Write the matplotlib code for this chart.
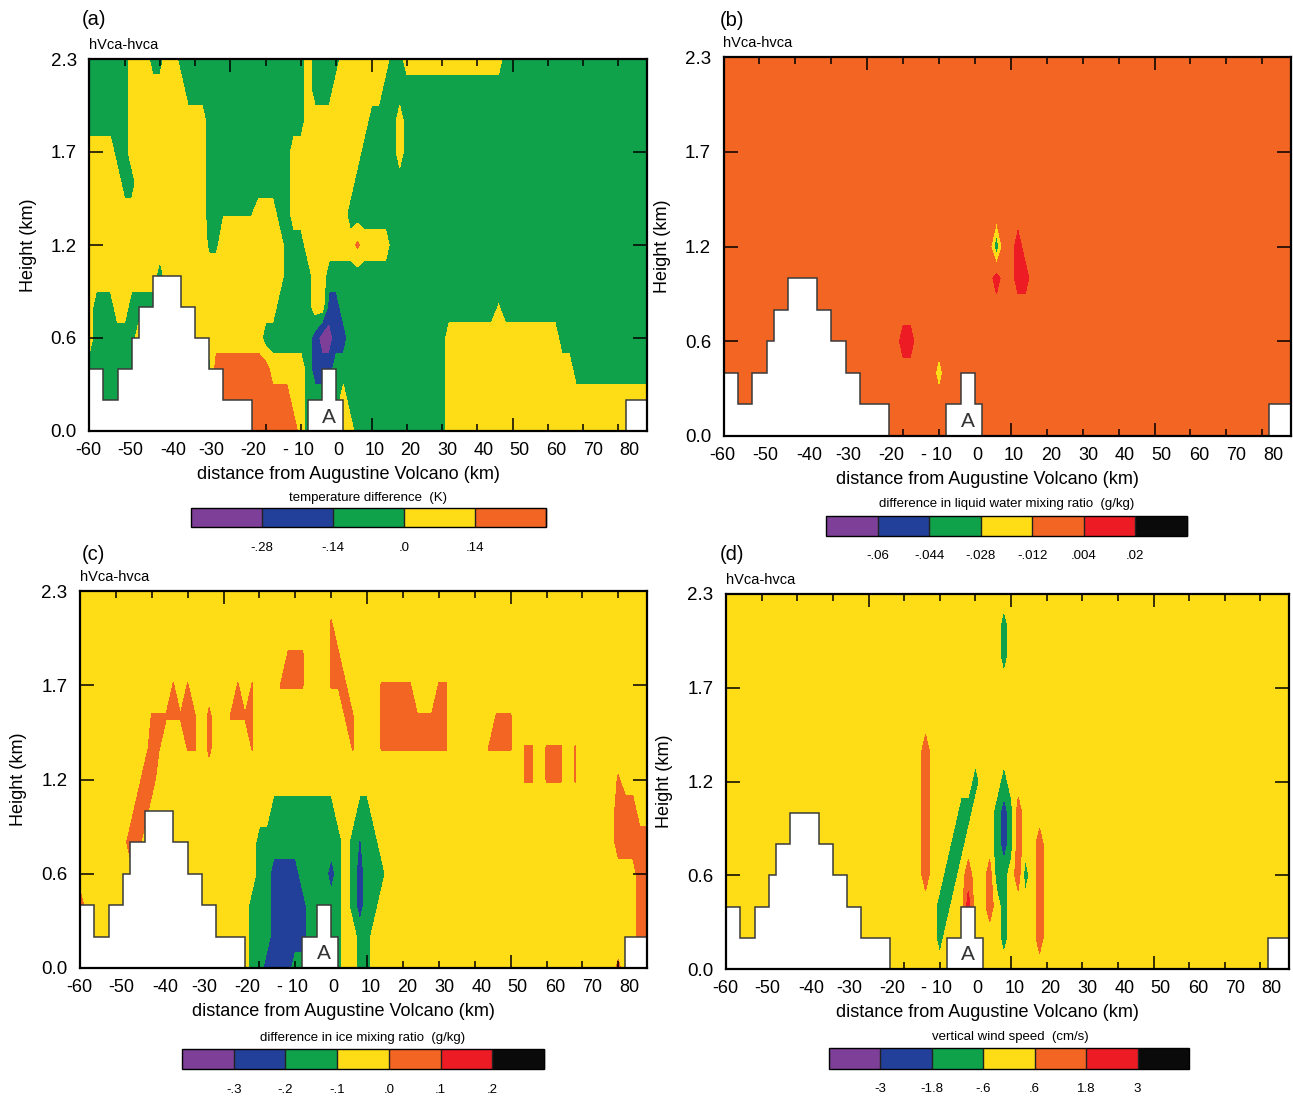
import numpy as np
import matplotlib
matplotlib.use("Agg")
import matplotlib.pyplot as plt

plt.rcParams['font.family'] = ['Liberation Sans', 'DejaVu Sans']

W, H = 1293, 1096
NX, NZ = 80, 13          # model columns, model levels

PALETTE = ['#7e3f98', '#22409a', '#10a14b', '#fedd17', '#f26522', '#ed1c24', '#0a0a0a']

# terrain (white steps): column edges and height in model levels
TERRAIN_EDGES = [0, 2, 4, 6, 7, 9, 13, 15, 17, 19, 23, 31, 33, 35, 36, 76, 79]
TERRAIN_LEVELS = [2, 1, 2, 3, 4, 5, 4, 3, 2, 1, 0, 1, 2, 1, 0, 1]
VENT_X, VENT_Z = 34.0, 0.45

XLABEL_POS = [-0.1, 5.8, 11.9, 17.3, 23.3, 29.6, 35.3, 40.45, 45.55, 50.75, 55.9, 61.0, 66.2, 71.4, 76.5]
XLABEL_TXT = ['-60', '-50', '-40', '-30', '-20', '- 10', '0', '10', '20', '30', '40', '50', '60', '70', '80']
YTICK_POS = [0, 3, 6, 9, 12]
YTICK_TXT = ['0.0', '0.6', '1.2', '1.7', '2.3']

# colour class per model level, top level (2.3 km) first; each row is a list of
# (first column, class).  0 purple 1 blue 2 green 3 yellow 4 orange 5 red 6 black;
# fractional classes sit between two class centres.
T_BOUNDS = [-0.42, -0.28, -0.14, 0.0, 0.14, 0.28]
T_LABELS = ['-.28', '-.14', '.0', '.14']
T_ROWS = [
    [(0, 2), (6, 3), (9, 2), (11, 3), (13, 2), (31, 3), (32, 2), (36, 3), (43, 2), (45, 3), (59, 2)],
    [(0, 2), (6, 3), (14, 2), (31, 3), (32, 2), (35, 3), (42, 2)],
    [(0, 2), (6, 3), (17, 2), (31, 3), (40, 2), (44, 3), (45, 2)],
    [(0, 3), (4, 2), (6, 3), (17, 2), (29, 3), (39, 2), (44, 3), (45, 2)],
    [(0, 3), (5, 2), (7, 3), (17, 2), (29, 3), (38, 2)],
    [(0, 3), (17, 2), (19, 2.45), (24, 3), (27, 2), (29, 3), (37, 2)],
    [(0, 3), (17, 2.3), (19, 3), (28, 2), (31, 3), (38, 3.7), (39, 3), (43, 2)],
    [(0, 3), (10, 2), (11, 3), (28, 2), (32, 3), (34, 2)],
    [(0, 3), (1, 2), (4, 3), (6, 2), (10, 3), (27, 2), (32, 3), (34, 1), (36, 2), (58, 2.56), (59, 2)],
    [(0, 3), (1, 2), (7, 3), (25, 2), (32, 1), (33, 0), (35, 1), (37, 2), (51, 3), (67, 2)],
    [(0, 2), (18, 4), (26, 3), (31, 2), (32, 1), (35, 2), (51, 3), (69, 2)],
    [(0, 2), (18, 4), (29, 3), (31, 2), (36, 3), (37, 2), (51, 3)],
    [(0, 4), (30, 3), (31, 2), (36, 3), (38, 2), (51, 3)],
]

QC_BOUNDS = [-0.076, -0.06, -0.044, -0.028, -0.012, 0.004, 0.02, 0.036]
QC_LABELS = ['-.06', '-.044', '-.028', '-.012', '.004', '.02']
QC_ROWS = [
    [(0, 4)],
    [(0, 4)],
    [(0, 4)],
    [(0, 4)],
    [(0, 4)],
    [(0, 4)],
    [(0, 4), (38, 1.7), (39, 4), (41, 5), (42, 4)],
    [(0, 4), (38, 5), (39, 4), (41, 5), (43, 4)],
    [(0, 4)],
    [(0, 4), (25, 5), (27, 4)],
    [(0, 4), (30, 3), (31, 4)],
    [(0, 4)],
    [(0, 4)],
]

QI_BOUNDS = [-0.4, -0.3, -0.2, -0.1, 0.0, 0.1, 0.2, 0.3]
QI_LABELS = ['-.3', '-.2', '-.1', '.0', '.1', '.2']
QI_ROWS = [
    [(0, 3)],
    [(0, 3), (35, 3.55), (36, 3)],
    [(0, 3), (29, 3.55), (32, 3), (35, 3.55), (37, 3)],
    [(0, 3), (13, 3.55), (14, 3), (15, 3.55), (16, 3), (22, 3.55), (23, 3), (24, 3.55), (25, 3),
     (28, 3.55), (32, 3), (35, 3.55), (38, 3), (42, 3.55), (47, 3), (50, 3.55), (52, 3)],
    [(0, 3), (10, 3.55), (17, 3), (18, 3.7), (19, 3), (21, 3.55), (25, 3), (37, 3.55), (39, 3),
     (42, 3.55), (52, 3), (58, 3.55), (61, 3)],
    [(0, 3), (10, 4), (11, 3.55), (12, 3), (15, 3.55), (17, 3), (18, 3.7), (19, 3), (24, 3.55), (25, 3),
     (38, 3.55), (39, 3), (42, 3.55), (52, 3), (57, 3.55), (61, 3), (62, 3.55), (64, 3), (65, 3.55),
     (68, 3), (69, 3.55), (70, 3)],
    [(0, 3), (9, 4), (11, 3), (62, 3.55), (64, 3), (65, 3.55), (68, 3), (69, 3.55), (70, 3),
     (75, 3.6), (76, 3)],
    [(0, 3), (8, 4), (10, 3), (27, 2), (36, 3), (39, 2), (41, 3), (75, 4), (78, 3)],
    [(0, 3), (7, 4), (9, 3), (25, 2), (37, 3), (38, 2), (39, 1.4), (40, 2), (42, 3), (75, 4)],
    [(0, 3), (25, 2), (27, 1), (31, 2), (35, 1), (36, 2), (37, 3), (38, 2), (39, 1), (40, 2), (43, 3),
     (78, 4)],
    [(0, 4), (1, 3), (24, 2), (27, 1), (32, 2), (37, 3), (38, 2), (39, 1), (40, 2), (42, 3), (78, 4)],
    [(0, 3), (24, 2), (27, 1), (32, 2), (37, 3), (39, 2), (41, 3), (78, 4)],
    [(0, 3), (24, 2), (26, 1), (30, 2), (37, 3), (39, 2), (41, 3), (75, 3.7), (76, 3)],
]

W_BOUNDS = [-4.2, -3.0, -1.8, -0.6, 0.6, 1.8, 3.0, 4.2]
W_LABELS = ['-3', '-1.8', '-.6', '.6', '1.8', '3']
W_ROWS = [
    [(0, 3)],
    [(0, 3), (39, 2), (40, 3)],
    [(0, 3), (39, 2), (40, 3)],
    [(0, 3)],
    [(0, 3)],
    [(0, 3), (28, 4), (29, 3)],
    [(0, 3), (28, 4), (29, 3), (35, 2), (36, 3), (39, 2), (40, 3)],
    [(0, 3), (28, 4), (29, 3), (33, 2), (35, 3), (38, 2), (39, 1), (40, 2), (41, 4), (42, 3)],
    [(0, 3), (28, 4), (29, 3), (32, 2), (34, 3), (38, 2), (39, 1), (40, 2), (41, 4), (42, 3), (44, 4), (45, 3)],
    [(0, 3), (28, 4), (29, 3), (31, 2), (33, 3), (34, 4), (35, 3), (37, 4), (38, 2), (40, 3), (41, 4),
     (42, 2), (43, 3), (44, 4), (45, 3)],
    [(0, 3), (30, 2), (32, 3), (34, 5), (35, 3), (37, 4), (38, 3), (39, 2), (40, 3), (44, 4), (45, 3)],
    [(0, 3), (30, 2), (31, 3), (39, 2), (40, 3), (44, 4), (45, 3)],
    [(0, 3)],
]

PANELS = [
    dict(tag='(a)', rows=T_ROWS, bounds=T_BOUNDS, labels=T_LABELS,
         title='temperature difference  (K)',
         ax=(89.3, 59, 646.7, 431), cb=(191, 508, 546, 527.5), cbt=(368, 498), tagxy=(82, 19.5)),
    dict(tag='(b)', rows=QC_ROWS, bounds=QC_BOUNDS, labels=QC_LABELS,
         title='difference in liquid water mixing ratio  (g/kg)',
         ax=(723.5, 57, 1291, 436), cb=(826, 516, 1187, 535.5), cbt=(1007, 504), tagxy=(720, 20)),
    dict(tag='(c)', rows=QI_ROWS, bounds=QI_BOUNDS, labels=QI_LABELS,
         title='difference in ice mixing ratio  (g/kg)',
         ax=(80, 591, 647, 968), cb=(182, 1049, 544, 1069), cbt=(363, 1038), tagxy=(82, 554)),
    dict(tag='(d)', rows=W_ROWS, bounds=W_BOUNDS, labels=W_LABELS,
         title='vertical wind speed  (cm/s)',
         ax=(726, 594, 1289, 969), cb=(829, 1048, 1189, 1068.5), cbt=(1010, 1037), tagxy=(720, 554)),
]


def rect(box):
    l, t, r, b = box
    return [l / W, 1 - b / H, (r - l) / W, (b - t) / H]


def expand(rows):
    codes = np.zeros((NZ, NX))
    for k, runs in enumerate(rows):
        lev = NZ - 1 - k
        for n, (start, code) in enumerate(runs):
            stop = runs[n + 1][0] if n + 1 < len(runs) else NX
            codes[lev, start:stop] = code
    return codes


fig = plt.figure(figsize=(W / 100, H / 100), dpi=100)

for p in PANELS:
    ax = fig.add_axes(rect(p['ax']))
    bounds = np.array(p['bounds'])
    mids = 0.5 * (bounds[:-1] + bounds[1:])
    field = np.interp(expand(p['rows']), np.arange(len(mids)), mids)
    colors = PALETTE[:len(mids)]
    cs = ax.contourf(np.arange(NX), np.arange(NZ), field, levels=bounds, colors=colors)

    ax.stairs(TERRAIN_LEVELS, TERRAIN_EDGES, baseline=0, fill=True, color='white', zorder=3)
    ax.stairs(TERRAIN_LEVELS, TERRAIN_EDGES, baseline=0, color='#3a3a3a', lw=1.1, zorder=4)
    ax.text(VENT_X, VENT_Z, 'A', ha='center', va='center', fontsize=15, color='#333333', zorder=5)

    ax.set_xlim(0, NX - 1)
    ax.set_ylim(0, NZ - 1)
    ax.set_xticks([0, 20, 40, 60])
    ax.set_xticks(np.arange(0, NX, 5), minor=True)
    ax.tick_params(axis='x', which='both', direction='in', top=True, bottom=True,
                   labelbottom=False, width=1.1, color='black')
    ax.tick_params(axis='x', which='major', length=9.5)
    ax.tick_params(axis='x', which='minor', length=5)
    ax.set_yticks(YTICK_POS, YTICK_TXT)
    ax.tick_params(axis='y', direction='in', left=True, right=True, length=10, width=1.1,
                   labelsize=13.5, pad=9)
    for s in ax.spines.values():
        s.set_linewidth(1.6)
        s.set_zorder(6)

    for pos, txt in zip(XLABEL_POS, XLABEL_TXT):
        ax.annotate(txt, xy=(pos, 0), xycoords=('data', 'axes fraction'), xytext=(0, -14),
                    textcoords='offset points', ha='center', va='center', fontsize=13)
    ax.annotate('distance from Augustine Volcano (km)', xy=(0.465, 0), xycoords='axes fraction',
                xytext=(0, -31.5), textcoords='offset points', ha='center', va='center', fontsize=13)
    ax.annotate('Height (km)', xy=(0, 0.5), xycoords='axes fraction', xytext=(-44, 0),
                textcoords='offset points', ha='center', va='center', rotation=90, fontsize=13)
    ax.annotate('hVca-hvca', xy=(0, 1), xycoords='axes fraction', xytext=(0, 10),
                textcoords='offset points', ha='left', va='center', fontsize=10.5)

    tx, ty = p['tagxy']
    fig.text(tx / W, 1 - ty / H, p['tag'], ha='left', va='center', fontsize=14.5)

    cax = fig.add_axes(rect(p['cb']))
    cb = fig.colorbar(cs, cax=cax, orientation='horizontal', drawedges=True)
    cb.set_ticks(p['bounds'][1:-1])
    cb.set_ticklabels(p['labels'])
    cax.tick_params(length=0, pad=10.5, labelsize=9.5)
    cb.outline.set_linewidth(1.0)
    cb.dividers.set_color('#222222')
    cb.dividers.set_linewidth(1.0)
    cx, cy = p['cbt']
    fig.text(cx / W, 1 - cy / H, p['title'], ha='center', va='center', fontsize=9.5)

fig.savefig('out.png', dpi=100)
